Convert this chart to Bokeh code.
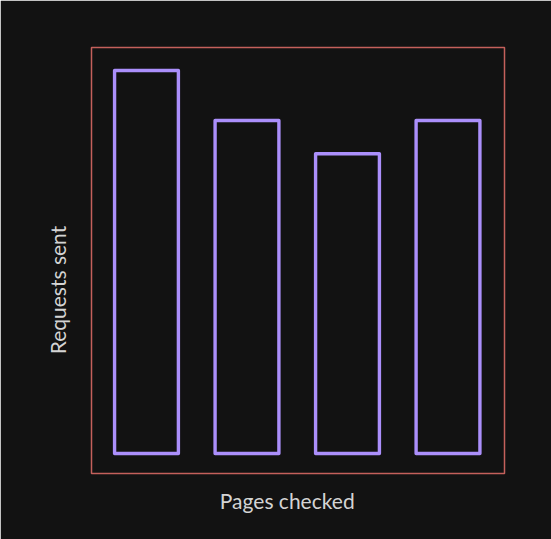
from bokeh.plotting import figure
from bokeh.models import Range1d, FixedTicker
from bokeh.embed import file_html
from bokeh.resources import INLINE

# data
pages = [1, 2, 3, 4]
requests = [23, 20, 18, 20]
x_title = "Pages checked"
y_title = "Requests sent"

bg = "#121212"

p = figure(width=551, height=539, output_backend="svg", toolbar_location=None,
           x_range=Range1d(0.453, 4.562), y_range=Range1d(-1.2, 24.38),
           min_border_left=91, min_border_right=47, min_border_top=47, min_border_bottom=66)

p.background_fill_color = bg
p.border_fill_color = bg
p.outline_line_color = "#c4605b"
p.outline_line_width = 1.5
p.grid.visible = False

p.vbar(x=pages, top=requests, bottom=0, width=0.635,
       fill_alpha=0, line_color="#ab8ffb", line_width=3.4, line_join="round")

for ax in (p.xaxis, p.yaxis):
    ax.ticker = FixedTicker(ticks=[])
    ax.axis_line_color = None
    ax.major_tick_line_color = None
    ax.minor_tick_line_color = None
    ax.major_tick_out = 0
    ax.major_label_standoff = 0
    ax.axis_label_text_color = "#d4d4d4"
    ax.axis_label_text_font = "Lato"
    ax.axis_label_text_font_size = "21px"
    ax.axis_label_text_font_style = "normal"

# the sketch has both titles a little off-centre; nbsp padding nudges them
p.xaxis.axis_label = x_title + "\u00a0" * 4
p.xaxis.axis_label_standoff = 14
p.yaxis.axis_label = y_title + "\u00a0" * 11
p.yaxis.axis_label_standoff = 22

html = file_html(p, INLINE)
html = html.replace("<body>", '<body style="margin:0;background-color:#121212;">', 1)
open("out.html", "w").write(html)
